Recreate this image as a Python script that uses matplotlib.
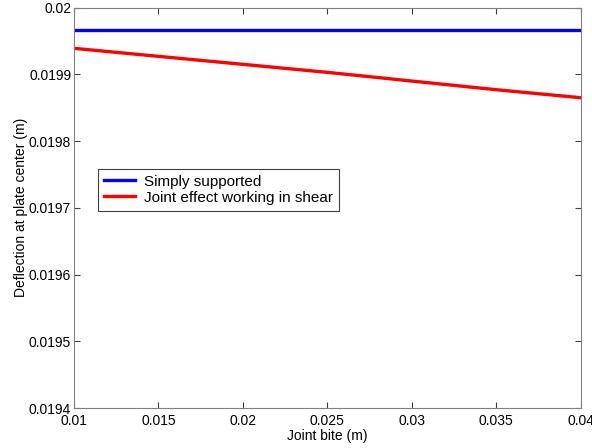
#deflection vs joint bite
import matplotlib
matplotlib.use("Agg")
import matplotlib.pyplot as plt
import numpy as np

plt.rcParams['font.family'] = ['Liberation Sans', 'DejaVu Sans']
plt.rcParams['font.size'] = 10

#values
jointBite = [0.01, 0.015, 0.02, 0.025, 0.03, 0.035, 0.04]
simplySupported = [0.019966, 0.019966, 0.019966, 0.019966, 0.019966, 0.019966, 0.019966]
jointShear = [0.019939, 0.019927, 0.019915, 0.019903, 0.019890, 0.019877, 0.019865]

xTicks = [0.01, 0.015, 0.02, 0.025, 0.03, 0.035, 0.04]
xTickLabels = ["0.01", "0.015", "0.02", "0.025", "0.03", "0.035", "0.04"]
yTicks = [0.0194, 0.0195, 0.0196, 0.0197, 0.0198, 0.0199, 0.02]
yTickLabels = ["0.0194", "0.0195", "0.0196", "0.0197", "0.0198", "0.0199", "0.02"]

fig = plt.figure(figsize=(5.92, 4.48), dpi=100)
ax = fig.add_axes([0.125, 0.089, 0.856, 0.894])

ax.plot(jointBite, simplySupported, color="#0000ff", linewidth=2.4, label="Simply supported")
ax.plot(jointBite, jointShear, color="#ff0000", linewidth=2.4, label="Joint effect working in shear")

ax.set_xlim(0.01, 0.04)
ax.set_ylim(0.0194, 0.02)
ax.set_xticks(xTicks)
ax.set_xticklabels(xTickLabels)
ax.set_yticks(yTicks)
ax.set_yticklabels(yTickLabels)
ax.tick_params(direction="in", top=True, right=True, length=4, color="#404040", pad=2)
ax.tick_params(axis="x", pad=4.2)
for spine in ax.spines.values():
    spine.set_color("#808080")

ax.set_xlabel("Joint bite (m)", labelpad=1)
ax.set_ylabel("Deflection at plate center (m)", labelpad=1)

leg = ax.legend(loc="upper left", bbox_to_anchor=(0.048, 0.598), fancybox=False,
                framealpha=1, edgecolor="#404040", borderpad=0.4, labelspacing=0.12,
                handlelength=2.0, handletextpad=0.6, borderaxespad=0, fontsize=11)
leg.get_frame().set_linewidth(0.8)

fig.savefig("out.png", dpi=100)
